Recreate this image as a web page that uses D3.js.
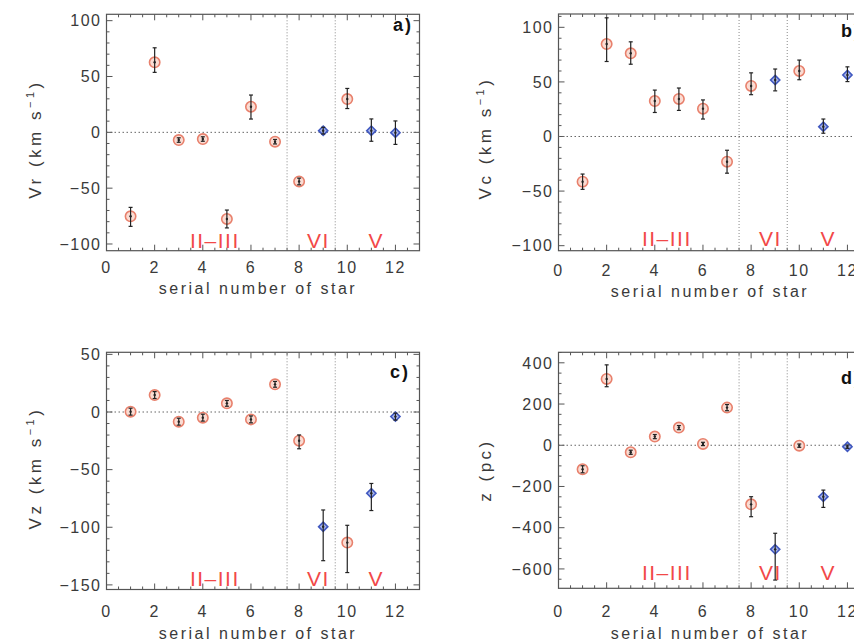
<!DOCTYPE html>
<html><head><meta charset="utf-8">
<script src="https://cdn.jsdelivr.net/npm/d3@7"></script>
<style>body{margin:0;background:#fff}svg{display:block}</style>
</head><body>
<svg id="c" width="854" height="641"></svg>
<script>
// ---------------- data ----------------
const stars = [1,2,3,4,5,6,7,8,9,10,11,12];
const markerKind = ["o","o","o","o","o","o","o","o","d","o","d","d"];
const xTicks = [0,2,4,6,8,10,12];

const vr        = [-75.2, 62.7, -6.9, -6.0, -77.6, 22.9, -8.4, -44.0, 1.5, 29.8, 1.5, -0.3];
const vrErrUp   = [8, 13, 2, 2, 8, 10.5, 2, 3, 3, 9.5, 10.5, 10.5];
const vrErrDown = [9, 9, 2, 2, 8, 11, 2, 3, 3, 8.5, 9.5, 10.5];

const vc        = [-41.4, 84.7, 76.2, 32.5, 34.4, 25.5, -23.1, 46.3, 51.8, 60.0, 9.0, 56.3];
const vcErrUp   = [7, 24, 10.5, 10, 10, 8, 10.5, 12, 10, 10, 7, 7.5];
const vcErrDown = [7, 16, 10, 10.5, 10.5, 9.5, 10.5, 8, 10, 8, 6, 6];

const vz        = [0.3, 14.7, -8.4, -4.9, 7.5, -6.4, 24.0, -24.9, -99.5, -113.3, -70.5, -4.0];
const vzErrUp   = [3, 3, 3, 3, 2.5, 3, 2.5, 5, 14.5, 15, 8.5, 3];
const vzErrDown = [3, 3, 3, 3, 2.5, 3, 2.5, 7, 29.5, 26, 15, 3];

const zpc       = [-116.5, 322, -34, 42, 85.6, 6.3, 182.6, -286.6, -505, -2, -249.5, -7];
const zErrUp    = [17, 68, 10, 10, 10, 8, 15, 37, 78, 8, 32, 8];
const zErrDown  = [17, 38, 10, 10, 10, 8, 15, 60, 149, 8, 52, 8];

const yTicksVr = [-100, -50, 0, 50, 100];
const yTicksVc = [-100, -50, 0, 50, 100];
const yTicksVz = [-150, -100, -50, 0, 50];
const yTicksZ  = [-600, -400, -200, 0, 200, 400];

const regionNames   = ["II\u2013III", "VI", "V"];
const regionCenters = [4.5, 8.8, 11.2];
const regionBounds  = [7.5, 9.5];

const panelLetters = ["a)", "b)", "c)", "d)"];
const xTitle = "serial number of star";

// ---------------- layout ----------------
const panels = [
  {vals: vr, up: vrErrUp, down: vrErrDown, ticks: yTicksVr, minor: 10, domain: [-106, 105.7],
   title: ["Vr (km s", "\u22121", ")"], letter: panelLetters[0],
   box: {l: 106.5, r: 419.5, t: 14.3, b: 250.7},
   tickY: 273, xTitleY: 294, yTitleX: 41, yTitleY: 139, regionY: 248, letterX: 413, letterY: 31, letterAnchor: "end"},
  {vals: vc, up: vcErrUp, down: vcErrDown, ticks: yTicksVc, minor: 10, domain: [-104.6, 112.2],
   title: ["Vc (km s", "\u22121", ")"], letter: panelLetters[1],
   box: {l: 558.5, r: 871.5, t: 14, b: 250.7},
   tickY: 276, xTitleY: 297, yTitleX: 491, yTitleY: 138, regionY: 246, letterX: 841, letterY: 37, letterAnchor: "start"},
  {vals: vz, up: vzErrUp, down: vzErrDown, ticks: yTicksVz, minor: 10, domain: [-154, 51.8],
   title: ["Vz (km s", "\u22121", ")"], letter: panelLetters[2],
   box: {l: 106.5, r: 419.5, t: 352.3, b: 589.5},
   tickY: 617, xTitleY: 639, yTitleX: 41, yTitleY: 468, regionY: 586, letterX: 410, letterY: 378, letterAnchor: "end"},
  {vals: zpc, up: zErrUp, down: zErrDown, ticks: yTicksZ, minor: 50, domain: [-694, 451],
   title: ["z (pc)"], letter: panelLetters[3],
   box: {l: 558.5, r: 871.5, t: 352.3, b: 588.3},
   tickY: 617, xTitleY: 639, yTitleX: 491, yTitleY: 470, regionY: 580, letterX: 841, letterY: 384, letterAnchor: "start"}
];

const FONT = "'Liberation Sans', Arial, sans-serif";
const TXT = "#3a3a3a";
const AX = "#555";
const svg = d3.select("#c");
svg.append("rect").attr("width", 854).attr("height", 641).attr("fill", "#fff");

panels.forEach(p => {
  const g = svg.append("g");
  const x = d3.scaleLinear().domain([0, 13]).range([p.box.l, p.box.r]);
  const y = d3.scaleLinear().domain(p.domain).range([p.box.b, p.box.t]);

  // box
  g.append("rect").attr("x", p.box.l).attr("y", p.box.t)
    .attr("width", p.box.r - p.box.l).attr("height", p.box.b - p.box.t)
    .attr("fill", "none").attr("stroke", AX).attr("stroke-width", 1.2);

  // ticks (inward on all four sides)
  const xMinor = d3.range(0, 13.01, 0.5);
  const yMinor = d3.range(Math.ceil(p.domain[0] / p.minor) * p.minor, p.domain[1] + 0.01, p.minor);
  const tk = g.append("g").attr("stroke", AX).attr("stroke-width", 1);
  xMinor.forEach(v => {
    const L = (Math.abs(v % 2) < 1e-9) ? 6 : 3;
    tk.append("line").attr("x1", x(v)).attr("x2", x(v)).attr("y1", p.box.b).attr("y2", p.box.b - L);
    tk.append("line").attr("x1", x(v)).attr("x2", x(v)).attr("y1", p.box.t).attr("y2", p.box.t + L);
  });
  yMinor.forEach(v => {
    const L = p.ticks.some(t => Math.abs(t - v) < 1e-9) ? 6 : 3;
    tk.append("line").attr("y1", y(v)).attr("y2", y(v)).attr("x1", p.box.l).attr("x2", p.box.l + L);
    tk.append("line").attr("y1", y(v)).attr("y2", y(v)).attr("x1", p.box.r).attr("x2", p.box.r - L);
  });

  // tick labels
  g.append("g").selectAll("text").data(xTicks).join("text")
    .attr("x", d => x(d)).attr("y", p.tickY).attr("text-anchor", "middle")
    .attr("font-family", FONT).attr("font-size", 16).attr("letter-spacing", 1.5).attr("fill", TXT)
    .text(d => d);
  g.append("g").selectAll("text").data(p.ticks).join("text")
    .attr("x", p.box.l - 5).attr("y", d => y(d)).attr("dy", "0.36em").attr("text-anchor", "end")
    .attr("font-family", FONT).attr("font-size", 16).attr("letter-spacing", 1.5).attr("fill", TXT)
    .text(d => (d < 0 ? "\u2212" + Math.abs(d) : d));

  // dotted reference lines
  g.append("line").attr("x1", p.box.l).attr("x2", p.box.r).attr("y1", y(0)).attr("y2", y(0))
    .attr("stroke", "#666").attr("stroke-width", 1).attr("stroke-dasharray", "1.5,2.5");
  regionBounds.forEach(v => {
    g.append("line").attr("x1", x(v)).attr("x2", x(v)).attr("y1", p.box.t).attr("y2", p.box.b)
      .attr("stroke", "#888").attr("stroke-width", 1).attr("stroke-dasharray", "1,2");
  });

  // markers
  const pts = stars.map((s, i) => ({s, v: p.vals[i], up: p.up[i], dn: p.down[i], k: markerKind[i]}));
  g.append("g").selectAll("circle").data(pts.filter(d => d.k === "o")).join("circle")
    .attr("cx", d => x(d.s)).attr("cy", d => y(d.v)).attr("r", 5.2)
    .attr("fill", "#fadcd3").attr("stroke", "#e8806c").attr("stroke-width", 1.6);
  g.append("g").selectAll("path").data(pts.filter(d => d.k === "d")).join("path")
    .attr("d", d => { const cx = x(d.s), cy = y(d.v), r = 4.6;
      return `M${cx},${cy - r}L${cx + r},${cy}L${cx},${cy + r}L${cx - r},${cy}Z`; })
    .attr("fill", "#a9b6ea").attr("stroke", "#4058c0").attr("stroke-width", 1.6);

  // error bars
  const eb = g.append("g").attr("stroke", "#222").attr("stroke-width", 1.2);
  pts.forEach(d => {
    const cx = x(d.s), y1 = y(d.v + d.up), y2 = y(d.v - d.dn);
    eb.append("line").attr("x1", cx).attr("x2", cx).attr("y1", y1).attr("y2", y2);
    eb.append("line").attr("x1", cx - 2).attr("x2", cx + 2).attr("y1", y1).attr("y2", y1);
    eb.append("line").attr("x1", cx - 2).attr("x2", cx + 2).attr("y1", y2).attr("y2", y2);
    eb.append("circle").attr("cx", cx).attr("cy", y(d.v)).attr("r", 1.2).attr("fill", "#222").attr("stroke", "none");
  });

  // region labels
  g.append("g").selectAll("text").data(regionNames).join("text")
    .attr("x", (d, i) => x(regionCenters[i])).attr("y", p.regionY).attr("text-anchor", "middle")
    .attr("font-family", FONT).attr("font-size", 21).attr("letter-spacing", 1.5).attr("fill", "#f24848")
    .text(d => d);

  // panel letter
  g.append("text").attr("x", p.letterX).attr("y", p.letterY).attr("text-anchor", p.letterAnchor)
    .attr("font-family", FONT).attr("font-size", 18).attr("font-weight", "bold").attr("letter-spacing", 2)
    .attr("fill", "#111").text(p.letter);

  // axis titles
  g.append("text").attr("x", (p.box.l + p.box.r) / 2 - 5).attr("y", p.xTitleY).attr("text-anchor", "middle")
    .attr("font-family", FONT).attr("font-size", 16).attr("letter-spacing", 2.5).attr("fill", TXT)
    .text(xTitle);
  const yt = g.append("text").attr("transform", `translate(${p.yTitleX},${p.yTitleY}) rotate(-90)`)
    .attr("text-anchor", "middle").attr("font-family", FONT).attr("font-size", 17)
    .attr("letter-spacing", 3.5).attr("fill", TXT);
  if (p.title.length === 1) {
    yt.text(p.title[0]);
  } else {
    yt.append("tspan").text(p.title[0]);
    yt.append("tspan").attr("font-size", 11).attr("dy", -7).text(p.title[1]);
    yt.append("tspan").attr("dy", 7).text(p.title[2]);
  }
});
</script>
</body></html>
